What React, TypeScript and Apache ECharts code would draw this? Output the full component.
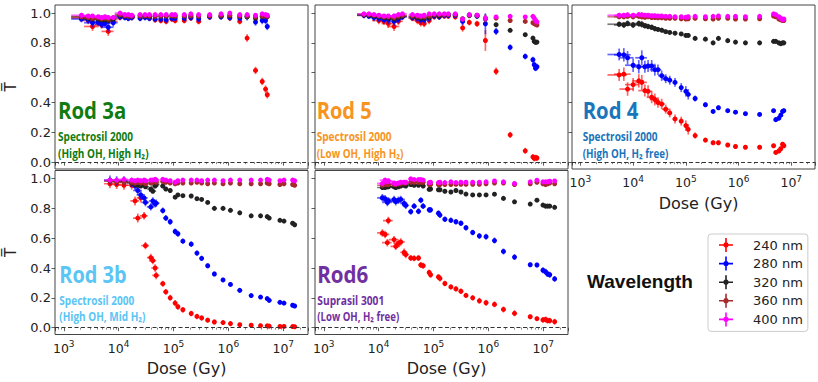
import React, { useEffect, useRef } from 'react';
import * as echarts from 'echarts';

// ---------------- data (dose in Gy, transmittance T) ----------------
const WAVELENGTHS = ['240 nm', '280 nm', '320 nm', '360 nm', '400 nm'];
const COLORS = ['#ff0000', '#0000ff', '#222222', '#a52a2a', '#ff00ff'];
const ERR_SCALE = [1, 1, 0.45, 0.35, 0.35];

// Rod 3a
const ROD3A_DOSE = [2100, 2790, 3340, 4250, 4890, 5620, 6470, 7980, 10600, 13000, 15000, 17300, 24600, 30300, 36400, 46200, 58700, 73400, 93300, 107000, 157000, 207000, 287000, 456000, 735000, 1060000, 1610000, 2190000, 3120000, 4130000, 4750000, 5100000];
const ROD3A_T240 = [0.966, 0.95, 0.91, 0.937, 0.92, 0.937, 0.877, 0.944, 0.97, 0.973, 0.966, 0.97, 0.966, 0.977, 0.966, 0.955, 0.95, 0.944, 0.96, 0.95, 0.95, 0.966, 0.944, 0.973, 0.977, 0.966, 0.944, 0.832, 0.615, 0.541, 0.49, 0.452];
const ROD3A_T280 = [0.96, 0.955, 0.935, 0.94, 0.925, 0.93, 0.905, 0.935, 0.975, 0.97, 0.965, 0.97, 0.965, 0.97, 0.965, 0.96, 0.96, 0.955, 0.965, 0.965, 0.965, 0.97, 0.96, 0.975, 0.975, 0.97, 0.965, 0.975, 0.94, 0.95, 0.95, 0.91];
const ROD3A_T320 = [0.975, 0.965, 0.96, 0.96, 0.955, 0.955, 0.95, 0.96, 0.985, 0.98, 0.978, 0.98, 0.982, 0.98, 0.978, 0.98, 0.98, 0.978, 0.982, 0.98, 0.98, 0.982, 0.978, 0.982, 0.98, 0.982, 0.98, 0.975, 0.965, 0.975, 0.98, 0.975];
const ROD3A_T360 = [0.975, 0.97, 0.965, 0.968, 0.962, 0.965, 0.96, 0.968, 0.99, 0.982, 0.98, 0.978, 0.98, 0.982, 0.98, 0.978, 0.98, 0.98, 0.982, 0.98, 0.98, 0.982, 0.98, 0.982, 0.985, 0.985, 0.98, 0.98, 0.975, 0.98, 0.982, 0.978];
const ROD3A_T400 = [0.985, 0.98, 0.98, 0.975, 0.97, 0.975, 0.97, 0.97, 1.0, 0.99, 0.99, 0.985, 0.99, 0.99, 0.99, 0.99, 0.99, 0.99, 0.99, 0.99, 0.99, 0.995, 0.99, 0.99, 0.995, 1.0, 0.99, 0.99, 0.985, 0.995, 0.99, 0.985];
const ROD3A_DT = [0.022, 0.025, 0.03, 0.025, 0.025, 0.025, 0.03, 0.025, 0.02, 0.02, 0.02, 0.02, 0.02, 0.02, 0.02, 0.02, 0.02, 0.02, 0.02, 0.02, 0.02, 0.02, 0.02, 0.02, 0.02, 0.02, 0.02, 0.025, 0.025, 0.025, 0.025, 0.025];
const ROD3A_DD = [0.35, 0.3, 0.3, 0.3, 0.25, 0.25, 0.25, 0.2, 0.2, 0.15, 0.15, 0.15, 0, 0, 0, 0, 0, 0, 0, 0, 0, 0, 0, 0, 0, 0, 0, 0, 0, 0, 0, 0];

// Rod 5
const ROD5_DOSE = [5390, 6650, 8220, 10100, 12500, 15000, 19100, 22900, 27100, 41300, 50900, 58600, 67500, 83300, 103000, 127000, 157000, 186000, 249000, 339000, 449000, 621000, 881000, 1380000, 2490000, 4690000, 6470000, 6840000, 7240000, 7660000];
const ROD5_T240 = [0.985, 0.985, 0.975, 0.95, 0.945, 0.93, 0.91, 0.945, 0.975, 0.965, 0.95, 0.935, 0.93, 0.95, 0.975, 0.975, 0.98, 0.98, 0.975, 0.9, 0.937, 0.928, 0.816, 0.609, 0.183, 0.076, 0.035, 0.025, 0.03, 0.028];
const ROD5_T280 = [0.985, 0.98, 0.97, 0.965, 0.955, 0.955, 0.944, 0.96, 0.975, 0.97, 0.965, 0.955, 0.955, 0.965, 0.98, 0.975, 0.985, 0.985, 0.985, 0.944, 0.985, 0.98, 0.928, 0.877, 0.77, 0.709, 0.687, 0.653, 0.63, 0.64];
const ROD5_T320 = [0.99, 0.985, 0.98, 0.975, 0.97, 0.965, 0.96, 0.97, 0.98, 0.975, 0.97, 0.965, 0.965, 0.97, 0.985, 0.98, 0.99, 0.99, 0.99, 0.96, 0.985, 0.98, 0.96, 0.922, 0.884, 0.855, 0.832, 0.81, 0.803, 0.805];
const ROD5_T360 = [0.99, 0.99, 0.985, 0.98, 0.975, 0.975, 0.97, 0.98, 0.985, 0.98, 0.978, 0.975, 0.975, 0.98, 0.99, 0.99, 0.99, 0.99, 0.99, 0.96, 0.985, 0.985, 0.965, 0.966, 0.95, 0.944, 0.935, 0.93, 0.925, 0.92];
const ROD5_T400 = [0.995, 0.995, 0.99, 0.985, 0.98, 0.98, 0.98, 0.99, 0.995, 0.99, 0.985, 0.98, 0.985, 0.995, 0.995, 0.995, 0.995, 0.995, 0.995, 0.96, 0.99, 0.985, 0.965, 0.974, 0.978, 0.974, 0.978, 0.966, 0.95, 0.94];
const ROD5_DT = [0.02, 0.02, 0.025, 0.025, 0.025, 0.03, 0.03, 0.025, 0.02, 0.02, 0.025, 0.025, 0.025, 0.025, 0.02, 0.02, 0.02, 0.02, 0.02, 0.025, 0.02, 0.02, 0.07, 0.025, 0.02, 0.02, 0.02, 0.02, 0.02, 0.02];
const ROD5_DD = [0.25, 0.25, 0.25, 0.25, 0.25, 0.25, 0.25, 0.2, 0.2, 0.15, 0.15, 0.12, 0.1, 0, 0, 0, 0, 0, 0, 0, 0, 0, 0, 0, 0, 0, 0, 0, 0, 0];

// Rod 4
const ROD4_DOSE = [5430, 6660, 7840, 10000, 12800, 14600, 16700, 19200, 22500, 25800, 29600, 34800, 41500, 49500, 62300, 81700, 100000, 111000, 150000, 235000, 329000, 415000, 623000, 874000, 1350000, 2510000, 4620000, 5080000, 5820000, 6310000, 6840000, 7230000];
const ROD4_T240 = [0.585, 0.59, 0.49, 0.52, 0.545, 0.535, 0.48, 0.475, 0.435, 0.42, 0.4, 0.39, 0.355, 0.33, 0.29, 0.275, 0.245, 0.22, 0.178, 0.148, 0.13, 0.13, 0.115, 0.105, 0.1, 0.1, 0.11, 0.065, 0.075, 0.09, 0.12, 0.11];
const ROD4_T280 = [0.722, 0.72, 0.7, 0.65, 0.64, 0.7, 0.64, 0.645, 0.645, 0.62, 0.62, 0.58, 0.56, 0.55, 0.535, 0.5, 0.475, 0.455, 0.427, 0.385, 0.34, 0.365, 0.345, 0.335, 0.325, 0.32, 0.345, 0.285, 0.295, 0.315, 0.34, 0.345];
const ROD4_T320 = [0.925, 0.92, 0.93, 0.92, 0.93, 0.925, 0.915, 0.91, 0.905, 0.895, 0.89, 0.885, 0.875, 0.87, 0.865, 0.86, 0.85, 0.85, 0.83, 0.825, 0.8, 0.83, 0.815, 0.805, 0.8, 0.8, 0.81, 0.81, 0.8, 0.795, 0.8, 0.8];
const ROD4_T360 = [0.975, 0.975, 0.978, 0.975, 0.978, 0.975, 0.972, 0.975, 0.97, 0.97, 0.968, 0.968, 0.965, 0.965, 0.965, 0.962, 0.96, 0.962, 0.965, 0.962, 0.96, 0.965, 0.965, 0.96, 0.96, 0.962, 0.98, 0.975, 0.96, 0.955, 0.95, 0.95];
const ROD4_T400 = [0.985, 0.985, 0.988, 0.985, 0.99, 0.988, 0.985, 0.985, 0.982, 0.982, 0.98, 0.98, 0.978, 0.978, 0.975, 0.975, 0.972, 0.975, 0.978, 0.975, 0.978, 0.98, 0.978, 0.978, 0.975, 0.978, 0.995, 0.99, 0.975, 0.965, 0.955, 0.96];
const ROD4_DT = [0.04, 0.045, 0.045, 0.045, 0.045, 0.05, 0.04, 0.04, 0.04, 0.04, 0.035, 0.035, 0.03, 0.03, 0.03, 0.03, 0.035, 0.035, 0.02, 0.015, 0.015, 0.015, 0.012, 0.012, 0.012, 0.012, 0.012, 0.015, 0.015, 0.015, 0.015, 0.015];
const ROD4_DD = [0.4, 0.35, 0.3, 0.3, 0.25, 0.25, 0.25, 0.2, 0.2, 0.2, 0.15, 0.15, 0.15, 0.1, 0.1, 0, 0, 0, 0, 0, 0, 0, 0, 0, 0, 0, 0, 0, 0, 0, 0, 0];

// Rod 3b
const ROD3B_DOSE = [6940, 9190, 12500, 17300, 19900, 22300, 25300, 29100, 30800, 38500, 41900, 46200, 48200, 63800, 72400, 86900, 107000, 120000, 148000, 210000, 267000, 325000, 419000, 555000, 798000, 1090000, 1610000, 2600000, 3850000, 5090000, 5540000, 8690000, 10300000, 14800000, 16100000];
const ROD3B_T240 = [0.965, 0.96, 0.955, 0.955, 0.85, 0.735, 0.87, 0.75, 0.55, 0.47, 0.45, 0.4, 0.35, 0.295, 0.24, 0.2, 0.165, 0.14, 0.12, 0.095, 0.075, 0.065, 0.05, 0.038, 0.034, 0.027, 0.02, 0.016, 0.013, 0.012, 0.01, 0.008, 0.008, 0.007, 0.006];
const ROD3B_T280 = [0.99, 0.985, 0.985, 0.975, 0.95, 0.92, 0.89, 0.87, 0.84, 0.81, 0.85, 0.83, 0.835, 0.785, 0.735, 0.71, 0.645, 0.63, 0.58, 0.56, 0.5, 0.465, 0.415, 0.36, 0.32, 0.29, 0.25, 0.215, 0.205, 0.195, 0.183, 0.17, 0.165, 0.15, 0.145];
const ROD3B_T320 = [0.985, 0.98, 0.98, 0.97, 0.96, 0.955, 0.95, 0.96, 0.945, 0.93, 0.915, 0.95, 0.96, 0.95, 0.93, 0.92, 0.875, 0.89, 0.885, 0.883, 0.865, 0.86, 0.84, 0.8, 0.8, 0.787, 0.77, 0.75, 0.75, 0.745, 0.735, 0.72, 0.715, 0.7, 0.69];
const ROD3B_T360 = [0.985, 0.98, 0.975, 0.975, 0.97, 0.975, 0.97, 0.975, 0.965, 0.97, 0.975, 0.98, 0.975, 0.98, 0.975, 0.97, 0.965, 0.97, 0.97, 0.97, 0.975, 0.97, 0.965, 0.97, 0.965, 0.97, 0.965, 0.965, 0.965, 0.97, 0.965, 0.96, 0.965, 0.96, 0.955];
const ROD3B_T400 = [0.99, 0.99, 0.995, 0.99, 0.985, 0.99, 0.985, 0.99, 0.985, 0.99, 0.99, 0.995, 0.99, 0.995, 0.99, 0.985, 0.975, 0.985, 0.99, 0.99, 0.99, 0.985, 0.99, 0.99, 0.985, 0.99, 0.99, 0.99, 0.99, 0.995, 0.99, 0.985, 0.99, 0.99, 0.985];
const ROD3B_DT = [0.03, 0.03, 0.03, 0.03, 0.03, 0.03, 0.03, 0.025, 0.025, 0.025, 0.025, 0.025, 0.025, 0.02, 0.02, 0.02, 0.02, 0.02, 0.018, 0.018, 0.018, 0.018, 0.016, 0.016, 0.015, 0.015, 0.013, 0.013, 0.013, 0.013, 0.013, 0.013, 0.013, 0.012, 0.012];
const ROD3B_DD = [0.22, 0.22, 0.2, 0.2, 0.18, 0.18, 0.16, 0.16, 0.16, 0.15, 0.15, 0.15, 0.15, 0.1, 0.1, 0, 0, 0, 0, 0, 0, 0, 0, 0, 0, 0, 0, 0, 0, 0, 0, 0, 0, 0, 0];

// Rod 6
const ROD6_DOSE = [11700, 13100, 14400, 15000, 19100, 20500, 22900, 25300, 29100, 31200, 38500, 44300, 53200, 58700, 64700, 83300, 88200, 123000, 131000, 161000, 207000, 256000, 316000, 390000, 517000, 684000, 906000, 1290000, 1880000, 2990000, 5780000, 7660000, 9860000, 11000000, 12000000, 13100000, 16100000];
const ROD6_T240 = [0.635, 0.625, 0.57, 0.718, 0.59, 0.545, 0.565, 0.575, 0.505, 0.49, 0.467, 0.465, 0.467, 0.42, 0.415, 0.37, 0.355, 0.34, 0.33, 0.296, 0.273, 0.26, 0.244, 0.216, 0.2, 0.18, 0.167, 0.156, 0.122, 0.096, 0.073, 0.06, 0.052, 0.055, 0.047, 0.047, 0.04];
const ROD6_T280 = [0.871, 0.865, 0.84, 0.85, 0.86, 0.845, 0.855, 0.86, 0.833, 0.82, 0.778, 0.815, 0.78, 0.855, 0.815, 0.79, 0.79, 0.767, 0.755, 0.727, 0.72, 0.71, 0.7, 0.67, 0.638, 0.615, 0.61, 0.584, 0.511, 0.473, 0.422, 0.42, 0.385, 0.375, 0.36, 0.355, 0.327];
const ROD6_T320 = [0.94, 0.94, 0.945, 0.945, 0.945, 0.94, 0.945, 0.95, 0.955, 0.95, 0.96, 0.955, 0.955, 0.97, 0.95, 0.927, 0.93, 0.925, 0.925, 0.915, 0.91, 0.92, 0.91, 0.896, 0.89, 0.89, 0.89, 0.895, 0.867, 0.844, 0.829, 0.855, 0.822, 0.815, 0.815, 0.815, 0.807];
const ROD6_T360 = [0.955, 0.96, 0.96, 0.96, 0.96, 0.96, 0.965, 0.965, 0.97, 0.97, 0.975, 0.975, 0.975, 0.975, 0.975, 0.96, 0.96, 0.96, 0.96, 0.96, 0.96, 0.962, 0.962, 0.962, 0.962, 0.962, 0.965, 0.97, 0.97, 0.96, 0.965, 0.975, 0.965, 0.96, 0.965, 0.97, 0.965];
const ROD6_T400 = [0.967, 0.99, 0.98, 0.985, 0.97, 0.965, 0.97, 0.975, 0.975, 0.975, 0.998, 0.993, 0.993, 0.993, 0.99, 0.973, 0.975, 0.973, 0.975, 0.973, 0.978, 0.973, 0.975, 0.975, 0.975, 0.975, 0.978, 0.984, 0.978, 0.967, 0.978, 0.989, 0.978, 0.978, 0.978, 0.982, 0.984];
const ROD6_DT = [0.025, 0.025, 0.025, 0.025, 0.025, 0.025, 0.025, 0.025, 0.025, 0.025, 0.02, 0.02, 0.02, 0.02, 0.02, 0.02, 0.02, 0.02, 0.02, 0.018, 0.018, 0.018, 0.018, 0.018, 0.018, 0.02, 0.02, 0.02, 0.02, 0.02, 0.015, 0.015, 0.02, 0.02, 0.02, 0.02, 0.02];
const ROD6_DD = [0.2, 0.2, 0.2, 0.2, 0.2, 0.2, 0.18, 0.18, 0.15, 0.15, 0.1, 0.1, 0.1, 0.1, 0.1, 0, 0, 0, 0, 0, 0, 0, 0, 0, 0, 0, 0, 0, 0, 0, 0, 0, 0, 0, 0, 0, 0];

const Y_TICKS = [0, 0.2, 0.4, 0.6, 0.8, 1.0];
const X_MIN = 692;
const X_MAX = 28200000;
const Y_MIN = -0.046;
const Y_MAX = 1.054;

const PANELS = [
  {
    dose: ROD3A_DOSE, series: [ROD3A_T240, ROD3A_T280, ROD3A_T320, ROD3A_T360, ROD3A_T400], dt: ROD3A_DT, dd: ROD3A_DD,
    title: 'Rod 3a', line1: 'Spectrosil 2000', line2: '(High OH, High H\u2082)', color: '#107c10',
    grid: { left: 55, top: 5, width: 253, height: 164 }, xLabels: false, yLabels: true,
    tx: 58, ty: [110, 135.8, 153.5], tw: [68.3, 75, 90.7],
  },
  {
    dose: ROD5_DOSE, series: [ROD5_T240, ROD5_T280, ROD5_T320, ROD5_T360, ROD5_T400], dt: ROD5_DT, dd: ROD5_DD,
    title: 'Rod 5', line1: 'Spectrosil 2000', line2: '(Low OH, High H\u2082)', color: '#f7941d',
    grid: { left: 315, top: 5, width: 253, height: 164 }, xLabels: false, yLabels: false,
    tx: 316.7, ty: [110, 135.8, 153.5], tw: [55, 75, 86.7],
  },
  {
    dose: ROD4_DOSE, series: [ROD4_T240, ROD4_T280, ROD4_T320, ROD4_T360, ROD4_T400], dt: ROD4_DT, dd: ROD4_DD,
    title: 'Rod 4', line1: 'Spectrosil 2000', line2: '(High OH, H\u2082 free)', color: '#1a75bb',
    grid: { left: 572, top: 5, width: 261, height: 164 }, xLabels: true, yLabels: false,
    tx: 582.7, ty: [110, 135.8, 153.5], tw: [55.7, 75, 85.7],
  },
  {
    dose: ROD3B_DOSE, series: [ROD3B_T240, ROD3B_T280, ROD3B_T320, ROD3B_T360, ROD3B_T400], dt: ROD3B_DT, dd: ROD3B_DD,
    title: 'Rod 3b', line1: 'Spectrosil 2000', line2: '(High OH, Mid H\u2082)', color: '#5bc5f5',
    grid: { left: 55, top: 170.5, width: 253, height: 164 }, xLabels: true, yLabels: true,
    tx: 59.3, ty: [274.3, 300, 316.7], tw: [67.3, 75, 86.3],
  },
  {
    dose: ROD6_DOSE, series: [ROD6_T240, ROD6_T280, ROD6_T320, ROD6_T360, ROD6_T400], dt: ROD6_DT, dd: ROD6_DD,
    title: 'Rod6', line1: 'Suprasil 3001', line2: '(Low OH, H\u2082 free)', color: '#7030a0',
    grid: { left: 315, top: 170.5, width: 253, height: 164 }, xLabels: true, yLabels: false,
    tx: 317.3, ty: [274.3, 300, 316.7], tw: [51, 67, 82],
  },
];

const TITLE_FONT = 'bold 23px "Open Sans"';
const SUB_FONT = 'bold 11.5px "Open Sans"';
const WL_FONT = 'bold 18.5px "Liberation Sans"';
const CROSS_ICON = 'path://M6.2,0H7.8V14H6.2Z M0,6.2H14V7.8H0Z M7,4.3A2.7,2.7 0 1 1 6.99,4.3Z';

function fitScale(text: string, font: string, target: number): number {
  const ctx = document.createElement('canvas').getContext('2d');
  if (!ctx) return 1;
  ctx.font = font;
  const w = ctx.measureText(text).width;
  return w > 0 ? target / w : 1;
}

function powLabel(v: number): string {
  const e = Math.log10(v);
  const r = Math.round(e);
  if (Math.abs(e - r) > 1e-6) return '';
  return `{b|10}{s|${r}}`;
}

function makeRender(color: string) {
  return (_params: any, api: any) => {
    const x = api.value(0);
    const y = api.value(1);
    const ye = api.value(2);
    const xf = api.value(3);
    const c = api.coord([x, y]);
    const children: any[] = [];
    const barStyle = { stroke: color, lineWidth: 1.7, opacity: 0.6 };
    if (ye > 0) {
      const a = api.coord([x, y + ye]);
      const b = api.coord([x, y - ye]);
      children.push({ type: 'line', shape: { x1: c[0], y1: a[1], x2: c[0], y2: b[1] }, style: barStyle });
    }
    if (xf > 0) {
      const a = api.coord([x * (1 - xf), y]);
      const b = api.coord([x * (1 + xf), y]);
      children.push({ type: 'line', shape: { x1: a[0], y1: c[1], x2: b[0], y2: c[1] }, style: barStyle });
    }
    children.push({ type: 'circle', shape: { cx: c[0], cy: c[1], r: 2.5 }, style: { fill: color } });
    return { type: 'group', children };
  };
}

function buildOption() {
  const grid = PANELS.map((p) => ({ ...p.grid, show: true, borderColor: '#444', borderWidth: 1, backgroundColor: 'transparent' }));
  const xAxis = PANELS.map((p, i) => ({
    type: 'log', logBase: 10, gridIndex: i, min: X_MIN, max: X_MAX,
    axisLine: { show: false },
    axisTick: { show: true, length: 3.5, lineStyle: { color: '#333', width: 0.8 } },
    minorTick: { show: true, splitNumber: 9, length: 2, lineStyle: { color: '#333', width: 0.6 } },
    splitLine: { show: false }, minorSplitLine: { show: false },
    axisLabel: {
      show: p.xLabels, margin: 5, formatter: powLabel,
      rich: {
        b: { fontSize: 12.5, fontFamily: 'DejaVu Sans', color: '#222', verticalAlign: 'bottom' },
        s: { fontSize: 9, fontFamily: 'DejaVu Sans', color: '#222', verticalAlign: 'bottom', padding: [0, 0, 6, 0] },
      },
    },
    name: p.xLabels ? 'Dose (Gy)' : '', nameLocation: 'middle', nameGap: 26,
    nameTextStyle: { fontSize: 16, fontFamily: 'DejaVu Sans', color: '#222', padding: [0, 0, 0, 10] },
  }));
  const yAxis = PANELS.map((p, i) => ({
    type: 'value', gridIndex: i, min: Y_MIN, max: Y_MAX,
    axisLine: { show: false },
    axisTick: { show: true, length: 3.5, customValues: Y_TICKS, lineStyle: { color: '#333', width: 0.8 } },
    axisLabel: {
      show: p.yLabels, customValues: Y_TICKS, margin: 4, fontSize: 13, fontFamily: 'DejaVu Sans', color: '#222',
      formatter: (v: number) => v.toFixed(1),
    },
    splitLine: { show: false },
    name: p.yLabels ? 'T\u0305' : '', nameLocation: 'middle', nameRotate: 90, nameGap: 37,
    nameTextStyle: { fontSize: 15, fontFamily: 'DejaVu Sans', color: '#222' },
  }));
  const series: any[] = [];
  PANELS.forEach((p, i) => {
    p.series.forEach((vals, w) => {
      series.push({
        type: 'custom', name: WAVELENGTHS[w], xAxisIndex: i, yAxisIndex: i, clip: true, z: 2 + w,
        itemStyle: { color: COLORS[w] },
        encode: { x: 0, y: 1 },
        renderItem: makeRender(COLORS[w]),
        data: p.dose.map((d, k) => [d, vals[k], p.dt[k] * ERR_SCALE[w], p.dd[k]]),
        markLine: w === 0 ? {
          silent: true, symbol: 'none', label: { show: false },
          lineStyle: { color: '#333', type: [4, 2.5], width: 1 },
          data: [{ yAxis: 0 }],
        } : undefined,
      });
    });
  });
  const graphic: any[] = [];
  PANELS.forEach((p) => {
    const texts = [p.title, p.line1, p.line2];
    texts.forEach((t, j) => {
      const font = j === 0 ? TITLE_FONT : SUB_FONT;
      graphic.push({
        type: 'text', x: p.tx, y: p.ty[j], scaleX: fitScale(t, font, p.tw[j]), z: 100,
        style: { text: t, font, fill: p.color, align: 'left', verticalAlign: 'middle' },
      });
    });
  });
  graphic.push({
    type: 'text', x: 587, y: 282, scaleX: fitScale('Wavelength', WL_FONT, 106), z: 100,
    style: { text: 'Wavelength', font: WL_FONT, fill: '#111', align: 'left', verticalAlign: 'middle' },
  });
  return {
    animation: false,
    backgroundColor: '#ffffff',
    textStyle: { fontFamily: 'DejaVu Sans' },
    grid, xAxis, yAxis, series, graphic,
    legend: {
      orient: 'vertical', left: 708, top: 234, padding: [4, 5, 5, 11], itemGap: 4.6,
      itemWidth: 14, itemHeight: 14, borderColor: '#cccccc', borderWidth: 1, borderRadius: 3,
      backgroundColor: '#ffffff', selectedMode: false,
      textStyle: { fontSize: 13, fontFamily: 'DejaVu Sans', color: '#222', padding: [0, 0, 0, 15] },
      data: WAVELENGTHS.map((n, i) => ({ name: n, icon: CROSS_ICON, itemStyle: { color: COLORS[i] } })),
    },
  };
}

export default function App() {
  const ref = useRef<HTMLDivElement>(null);
  useEffect(() => {
    if (!ref.current) return;
    const chart = echarts.init(ref.current, undefined, { renderer: 'svg' });
    chart.setOption(buildOption() as any);
    return () => chart.dispose();
  }, []);
  return (
    <div
      ref={ref}
      style={{ position: 'fixed', left: 0, top: 0, width: 818, height: 382, background: '#fff' }}
    />
  );
}
